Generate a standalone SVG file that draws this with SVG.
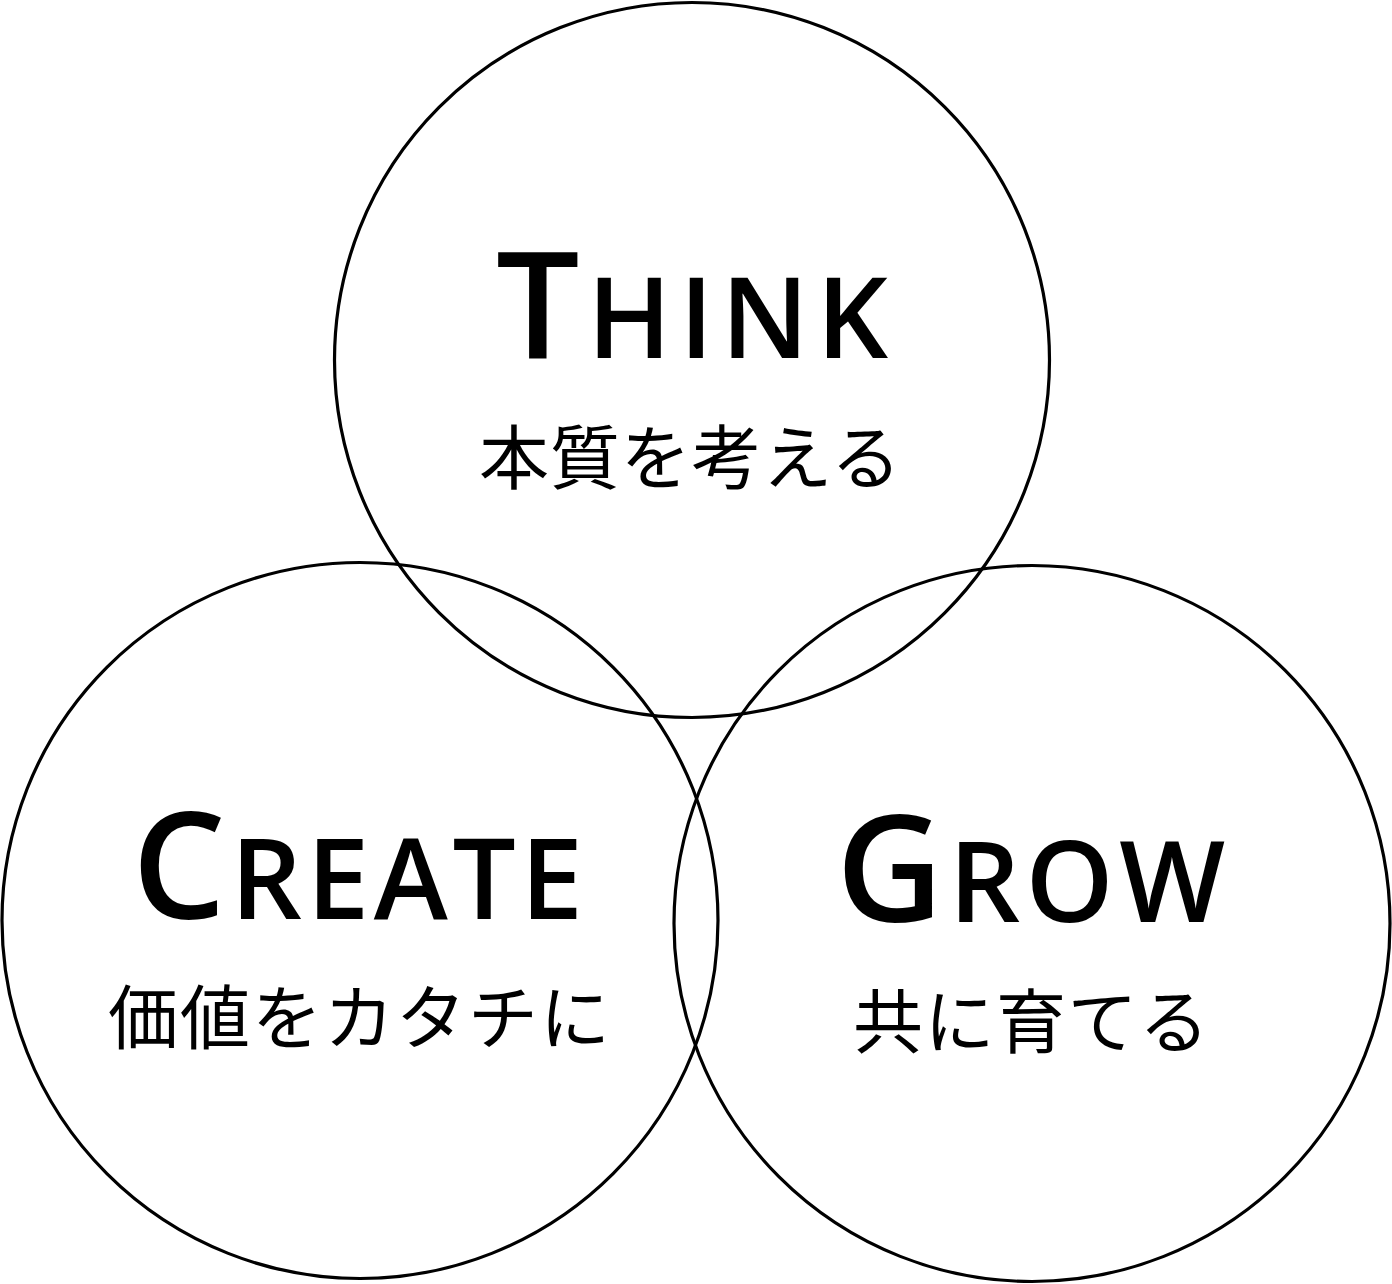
<svg xmlns="http://www.w3.org/2000/svg" width="1392" height="1284" viewBox="0 0 1392 1284">
<style>
.c{fill:none;stroke:#000;stroke-width:3.2}
.en{font-family:"Open Sans","Noto Sans",sans-serif;font-weight:600;fill:#000}
.big{font-size:148px}
.sm{font-size:112px}
.jp{font-family:"Noto Sans CJK JP",sans-serif;font-size:70px;fill:#000}
</style>
<rect width="1392" height="1284" fill="#fff"/>
<g id="think">
<circle class="c" cx="692" cy="360" r="357.5"/>
<text class="en" x="496" y="358" textLength="392"><tspan class="big">T</tspan><tspan class="sm">HINK</tspan></text>
<text class="jp" x="479" y="484" textLength="422">本質を考える</text>
</g>
<g id="create">
<circle class="c" cx="360" cy="920.5" r="358"/>
<text class="en" x="132" y="919" textLength="451"><tspan class="big">C</tspan><tspan class="sm">REATE</tspan></text>
<text class="jp" x="108" y="1044" textLength="502">価値をカタチに</text>
</g>
<g id="grow">
<circle class="c" cx="1032" cy="923.5" r="358"/>
<text class="en" x="836" y="922" textLength="389"><tspan class="big">G</tspan><tspan class="sm">ROW</tspan></text>
<text class="jp" x="853" y="1048" textLength="356">共に育てる</text>
</g>
<g id="connectors"/>
</svg>
